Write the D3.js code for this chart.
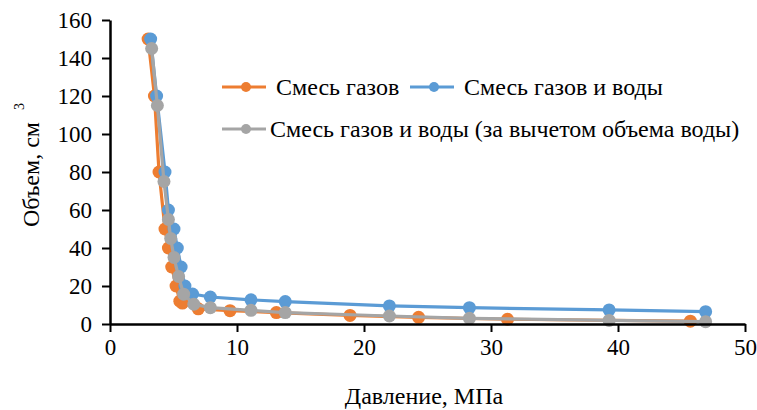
<!DOCTYPE html>
<html>
<head>
<meta charset="utf-8">
<script src="https://cdn.jsdelivr.net/npm/d3@7"></script>
<style>
  body { margin: 0; background: #fff; }
  svg text { font-family: 'Liberation Serif', 'Times New Roman', serif; fill: #000; }
</style>
</head>
<body>
<script>
// data: pressure (MPa) and volume (cm3)
var gasP   = [3.0, 3.5, 3.86, 4.33, 4.6, 4.86, 5.2, 5.5, 5.7, 6.95, 9.45, 13.1, 18.9, 24.3, 31.3, 45.7];
var gasV   = [150, 120, 80, 50, 40, 30, 20, 12, 11, 8, 7, 6, 4.5, 3.5, 2.5, 1.5];
var waterP = [3.2, 3.67, 4.33, 4.6, 5.04, 5.3, 5.6, 5.9, 6.5, 7.9, 11.1, 13.8, 22.0, 28.3, 39.3, 46.9];
var waterV = [150, 120, 80, 60, 50, 40, 30, 20, 15.8, 14.2, 12.7, 11.8, 9.5, 8.6, 7.4, 6.5];
var netP   = [3.28, 3.73, 4.25, 4.6, 4.78, 5.04, 5.4, 5.8, 6.6, 7.9, 11.1, 13.8, 22.0, 28.3, 39.3, 46.9];
var netV   = [145, 115, 75, 55, 45, 35, 25, 15.7, 10.4, 8.6, 7.2, 6.0, 4.2, 3.0, 1.9, 1.2];

var seriesNames = ["Смесь газов", "Смесь газов и воды", "Смесь газов и воды (за вычетом объема воды)"];
var seriesColors = ["#ED7D31", "#5B9BD5", "#A5A5A5"];
var xTicks = [0, 10, 20, 30, 40, 50];
var yTicks = [0, 20, 40, 60, 80, 100, 120, 140, 160];

var width = 757, height = 410;
var margin = {top: 20, right: 12, bottom: 86, left: 110};

//Build series
var series = [
  {name: seriesNames[0], color: seriesColors[0], pts: gasP.map((p, i) => [p, gasV[i]])},
  {name: seriesNames[1], color: seriesColors[1], pts: waterP.map((p, i) => [p, waterV[i]])},
  {name: seriesNames[2], color: seriesColors[2], pts: netP.map((p, i) => [p, netV[i]])}
];

const svg = d3.select("body").append("svg")
  .attr("width", width)
  .attr("height", height);

//Scales
var x = d3.scaleLinear().domain([0, 50]).range([margin.left, width - margin.right]);
var y = d3.scaleLinear().domain([0, 160]).range([height - margin.bottom, margin.top]);

//Lines and markers
var line = d3.line().x(d => x(d[0])).y(d => y(d[1]));

series.forEach(function(s) {
  var g = svg.append("g");
  g.append("path")
    .datum(s.pts)
    .attr("fill", "none")
    .attr("stroke", s.color)
    .attr("stroke-width", 3.2)
    .attr("d", line);
  g.selectAll("circle")
    .data(s.pts)
    .join("circle")
    .attr("cx", d => x(d[0]))
    .attr("cy", d => y(d[1]))
    .attr("r", 6.5)
    .attr("fill", s.color);
});

//Axes
const xAxis = svg.append("g")
  .attr("transform", `translate(0,${y(0)})`)
  .call(d3.axisBottom(x).tickValues(xTicks).tickSize(8).tickSizeOuter(0).tickPadding(7));
const yAxis = svg.append("g")
  .attr("transform", `translate(${x(0)},0)`)
  .call(d3.axisLeft(y).tickValues(yTicks).tickSize(8).tickSizeOuter(0).tickPadding(10));

[xAxis, yAxis].forEach(function(a) {
  a.attr("font-family", null).attr("font-size", null);
  a.select(".domain").attr("stroke", "#000").attr("stroke-width", 2.5);
  a.selectAll(".tick line").attr("stroke", "#000").attr("stroke-width", 2);
  a.selectAll(".tick text")
    .attr("fill", "#000")
    .style("font-size", "23px");
});

//Axis titles
svg.append("text")
  .attr("x", 424)
  .attr("y", 404)
  .attr("text-anchor", "middle")
  .style("font-size", "24px")
  .text("Давление, МПа");

var yt = svg.append("text")
  .attr("transform", "translate(39,165) rotate(-90)")
  .attr("text-anchor", "middle")
  .style("font-size", "24px");
yt.append("tspan").text("Объем, см");
yt.append("tspan").attr("dy", -15).attr("dx", 12).style("font-size", "14px").text("3");

//Legend
var legendPos = [[222, 87], [410, 87], [222, 129]];
series.forEach(function(s, i) {
  var lg = svg.append("g").attr("transform", `translate(${legendPos[i][0]},${legendPos[i][1]})`);
  lg.append("line")
    .attr("x1", 0).attr("x2", 44)
    .attr("stroke", s.color)
    .attr("stroke-width", 3);
  lg.append("circle").attr("cx", 24).attr("r", 5).attr("fill", s.color);
  lg.append("text")
    .attr("x", i == 2 ? 48 : 54)
    .attr("y", 8)
    .style("font-size", "24px")
    .text(s.name);
});
</script>
</body>
</html>
